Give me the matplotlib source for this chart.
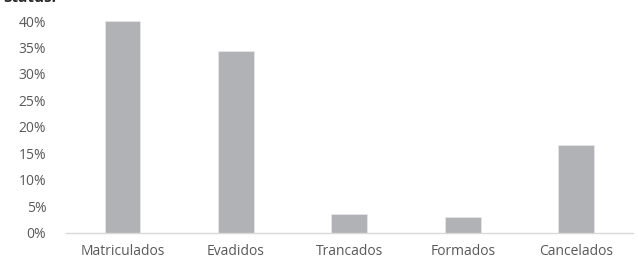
import numpy as np
import matplotlib.pyplot as plt
from matplotlib.ticker import PercentFormatter

categories = ["Matriculados", "Evadidos", "Trancados", "Formados", "Cancelados"]
values = [40.0, 34.4, 3.55, 2.9, 16.5]
yticks = [0, 5, 10, 15, 20, 25, 30, 35, 40]

plt.rcParams['font.family'] = ['Open Sans', 'DejaVu Sans']

fig = plt.figure(figsize=(6.38, 2.61), dpi=100)
ax = fig.add_axes([0.103, 0.109, 0.889, 0.8105])

x = np.arange(len(categories))
ax.bar(x, values, width=0.316, color='#B1B2B6', edgecolor='#E6E6E8', linewidth=0.6)

ax.set_xlim(-0.5, len(categories) - 0.5)
ax.set_ylim(0, 40)
ax.set_yticks(yticks)
ax.yaxis.set_major_formatter(PercentFormatter(decimals=0))
ax.set_xticks(x)
ax.set_xticklabels(categories)

for s in ['top', 'right', 'left']:
    ax.spines[s].set_visible(False)
ax.spines['bottom'].set_color('#D9D9D9')
ax.spines['bottom'].set_linewidth(1)
ax.tick_params(axis='both', length=0, labelsize=10, colors='#595959')
ax.tick_params(axis='y', pad=14)
ax.tick_params(axis='x', pad=8)

# title cut off at the top edge of the image
fig.text(0.005, 0.992, "Status:", fontsize=11, fontweight='bold', color='#262626', va='baseline')

fig.savefig("out.png", dpi=100)
